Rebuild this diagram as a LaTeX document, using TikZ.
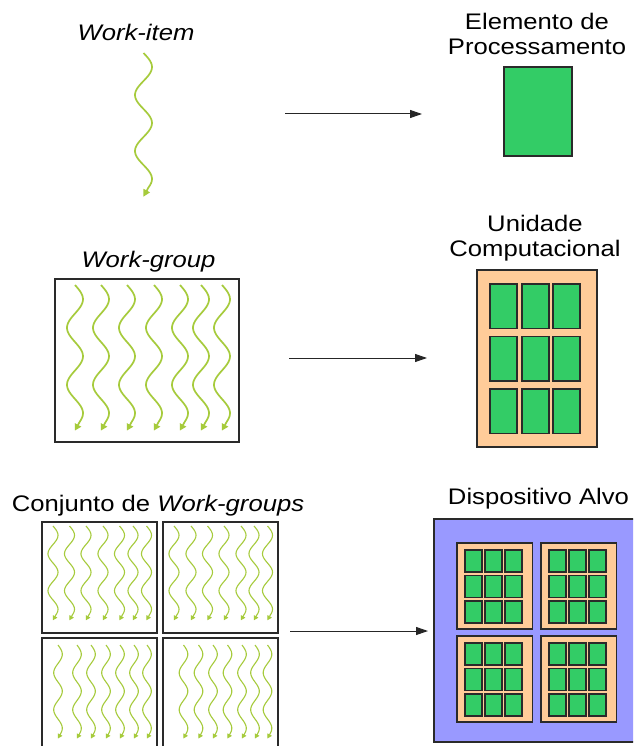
\documentclass[tikz,border=0pt]{standalone}
\usepackage{fontspec}
\setmainfont{Liberation Sans}[FakeStretch=1.14]
\usetikzlibrary{arrows.meta}

\definecolor{pegreen}{HTML}{33CC66}
\definecolor{cuorange}{HTML}{FFCC99}
\definecolor{devpurple}{HTML}{9999FF}
\definecolor{threadgreen}{HTML}{A6CB3C}
\definecolor{edgegray}{HTML}{2A2A2A}

% rectangle node from its top-left and bottom-right corners
\newcommand\rectnode[6]{%
  \node[#1, anchor=north west, minimum width={((#5)-(#3))*1pt}, minimum height={((#6)-(#4))*1pt}] (#2) at ({#3},{#4}) {};}

% one wavy work-item thread: centre x, top y, amplitude, period, tip style
\newcommand\thread[6]{%
  \draw[#5, -{Triangle[#6]}] plot[domain=0:2.4, samples=70] ({#1+#3*sin(360*\x)},{#2+#4*\x}) -- ++(-0.6*#3,1.1*#3);}

\begin{document}
\begin{tikzpicture}[x=1pt, y=-1pt,
  lbl/.style={font=\fontsize{22.5}{25}\selectfont, inner sep=0pt, text depth=0pt, anchor=south, align=center},
  flow/.style={-{Triangle[length=12pt,width=8pt]}, line width=1pt, black!85},
  cell/.style={draw=edgegray, line width=1.3pt, fill=pegreen, inner sep=0pt, outer sep=0pt},
  core/.style={draw=edgegray, line width=1.3pt, fill=cuorange, inner sep=0pt, outer sep=0pt},
  device/.style={draw=edgegray, line width=1.3pt, fill=devpurple, inner sep=0pt, outer sep=0pt},
  groupbox/.style={draw=edgegray, line width=1.3pt, fill=white, inner sep=0pt, outer sep=0pt},
  bigthread/.style={draw=threadgreen, line width=1.7pt},
  smallthread/.style={draw=threadgreen, line width=1.1pt},
]
\clip (0,0) rectangle (633,746);
\fill[white] (0,0) rectangle (633,746);

% ---------- row 1: work-item -> processing element ----------
\node[lbl] (witem) at (136,41) {\textit{Work-item}};
\thread{143.5}{53}{8.5}{56}{bigthread}{length=7pt,width=7pt}
\node[lbl] (pelabel) at (537,54.5) {Elemento de\\Processamento};
\rectnode{cell}{pe}{504}{67}{572}{156}
\coordinate (a1s) at (285,114);
\coordinate (a1e) at (422,114);
\draw[flow] (a1s) -- (a1e);

% ---------- row 2: work-group -> compute unit ----------
\node[lbl] (wgroup) at (148.5,268) {\textit{Work-group}};
\rectnode{groupbox}{wgbox}{55}{279}{239}{442}
\foreach \cx in {75,101,127,154,180,201,222}{
  \thread{\cx}{285}{8}{57}{bigthread}{length=6.5pt,width=7pt}}
\node[lbl] (culabel) at (535,257) {Unidade\\Computacional};
\rectnode{core}{cu}{477}{270}{597}{447}
\foreach \c/\x in {0/490,1/522,2/553}{
  \foreach \r/\y in {0/284,1/336.5,2/389}{
    \rectnode{cell}{cu-\c-\r}{\x}{\y}{\x+27}{\y+44.5}}}
\coordinate (a2s) at (289,358);
\coordinate (a2e) at (427,358);
\draw[flow] (a2s) -- (a2e);

% ---------- row 3: set of work-groups -> target device ----------
\node[lbl] (wgset) at (158,512) {Conjunto de \textit{Work-groups}};
\rectnode{groupbox}{g1}{42}{522}{157}{633}
\rectnode{groupbox}{g2}{163}{522}{278}{633}
\rectnode{groupbox}{g3}{42}{638}{157}{770}
\rectnode{groupbox}{g4}{163}{638}{278}{770}
\foreach \cx in {53,69.5,86,103,119.5,133,146.5}{
  \thread{\cx}{526}{5}{37}{smallthread}{length=4.5pt,width=5pt}}
\foreach \cx in {174,191,207.5,224,241,254,267.5}{
  \thread{\cx}{526}{5}{37}{smallthread}{length=4.5pt,width=5pt}}
\foreach \cx in {58,77,91,106,120,134,147}{
  \thread{\cx}{645}{4.3}{37}{smallthread}{length=4.5pt,width=5pt}}
\foreach \cx in {183.5,198.5,213,227.5,242,255,267.5}{
  \thread{\cx}{645}{4.3}{37}{smallthread}{length=4.5pt,width=5pt}}

\node[lbl] (devlabel) at (538.5,505) {Dispositivo Alvo};
\rectnode{device}{dev}{434}{519}{660}{742}
\foreach \b/\bx/\by in {0/457/543,1/541/543,2/457/636,3/541/636}{
  \rectnode{core}{blk-\b}{\bx}{\by}{\bx+75.5}{\by+86}
  \foreach \c in {0,1,2}{
    \foreach \r in {0,1,2}{
      \rectnode{cell}{blk-\b-\c-\r}{\bx+8+20*\c}{\by+7+25.5*\r}{\bx+25+20*\c}{\by+29+25.5*\r}}}}
\coordinate (a3s) at (290,631);
\coordinate (a3e) at (428,631);
\draw[flow] (a3s) -- (a3e);
\end{tikzpicture}
\end{document}
